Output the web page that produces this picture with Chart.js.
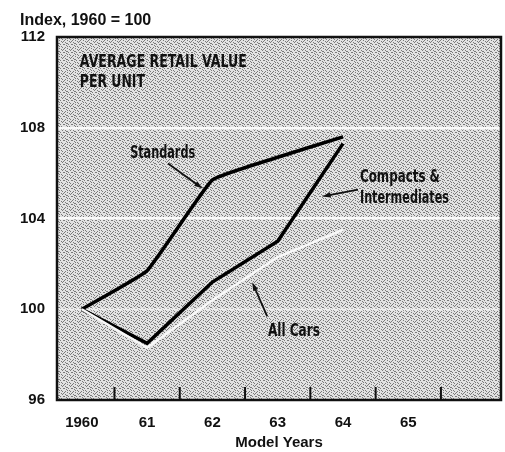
<!DOCTYPE html>
<html>
<head>
<meta charset="utf-8">
<script src="https://cdn.jsdelivr.net/npm/chart.js@4/dist/chart.umd.min.js"></script>
<style>
  html, body { margin: 0; padding: 0; background: #fff; }
  #wrap { width: 505px; height: 452px; }
</style>
</head>
<body>
<div id="wrap"><canvas id="chart" width="505" height="452"></canvas></div>
<script>
// --- data ---
const years = [1960, 1961, 1962, 1963, 1964];
const standards = [100, 101.7, 105.7, 106.7, 107.6];
const compacts = [100, 98.5, 101.2, 103.0, 107.3];
const allCars = [100, 98.3, 100.4, 102.3, 103.5];

const tickYears = [1960, 1961, 1962, 1963, 1964, 1965];
const tickLabels = ['1960', '61', '62', '63', '64', '65'];
const halfYears = [1960.5, 1961.5, 1962.5, 1963.5, 1964.5, 1965.5];
const yTicks = [96, 100, 104, 108, 112];

// annotations in data space: [text, x, y, width]
const notes = [
  ['AVERAGE RETAIL VALUE', 1959.97, 110.68, 167],
  ['PER UNIT', 1959.97, 109.8, 65],
  ['Standards', 1960.74, 106.68, 65],
  ['Compacts &', 1964.26, 105.63, 80],
  ['Intermediates', 1964.26, 104.7, 89],
  ['All Cars', 1962.85, 98.81, 52]
];
// arrows: [fromX, fromY, toX, toY]
const arrows = [
  [1961.32, 106.42, 1961.85, 105.32],
  [1964.23, 105.27, 1963.68, 104.97],
  [1962.84, 99.69, 1962.61, 101.19]
];

const boldFont = 'bold 16px "Liberation Sans", Arial, sans-serif';
const narrowFont = 'bold 17px "Liberation Sans Narrow", "DejaVu Sans Condensed", sans-serif';

// fixed dot layout for the stipple tile (8x8)
const dots = [[0,0],[3,0],[5,1],[1,2],[6,2],[3,3],[0,4],[4,4],[7,4],[2,5],[5,6],[1,7],[6,7],[3,6],[7,1],[2,3]];

function stipple(ctx) {
  const c = document.createElement('canvas');
  c.width = 8; c.height = 8;
  const g = c.getContext('2d');
  g.fillStyle = '#e2e2e2';
  g.fillRect(0, 0, 8, 8);
  g.fillStyle = '#7a7a7a';
  dots.forEach(p => g.fillRect(p[0], p[1], 1, 1));
  return ctx.createPattern(c, 'repeat');
}

const decor = {
  id: 'decor',
  beforeDraw(chart) {
    const { ctx, chartArea: a } = chart;
    ctx.save();
    ctx.fillStyle = '#ffffff';
    ctx.fillRect(0, 0, chart.width, chart.height);
    ctx.fillStyle = stipple(ctx);
    ctx.fillRect(a.left, a.top, a.right - a.left, a.bottom - a.top);
    ctx.restore();
  },
  afterDatasetsDraw(chart) {
    const { ctx, chartArea: a, scales: { x, y } } = chart;
    ctx.save();
    // small tick marks on the bottom axis
    ctx.strokeStyle = '#111';
    ctx.lineWidth = 2;
    halfYears.forEach(v => {
      const px = x.getPixelForValue(v);
      if (px > a.right - 2) return;
      ctx.beginPath();
      ctx.moveTo(px, a.bottom);
      ctx.lineTo(px, a.bottom - 13);
      ctx.stroke();
    });
    // frame
    ctx.lineWidth = 2.5;
    ctx.strokeRect(a.left, a.top, a.right - a.left, a.bottom - a.top);

    // labels
    ctx.fillStyle = '#111';
    ctx.font = narrowFont;
    ctx.textBaseline = 'alphabetic';
    ctx.textAlign = 'left';
    notes.forEach(n => {
      ctx.fillText(n[0], x.getPixelForValue(n[1]), y.getPixelForValue(n[2]), n[3]);
    });

    // arrows
    ctx.lineWidth = 1.8;
    arrows.forEach(ar => {
      const x1 = x.getPixelForValue(ar[0]), y1 = y.getPixelForValue(ar[1]);
      const x2 = x.getPixelForValue(ar[2]), y2 = y.getPixelForValue(ar[3]);
      const ang = Math.atan2(y2 - y1, x2 - x1);
      ctx.beginPath();
      ctx.moveTo(x1, y1);
      ctx.lineTo(x2 - 6 * Math.cos(ang), y2 - 6 * Math.sin(ang));
      ctx.stroke();
      ctx.beginPath();
      ctx.moveTo(x2, y2);
      ctx.lineTo(x2 - 9 * Math.cos(ang - 0.3), y2 - 9 * Math.sin(ang - 0.3));
      ctx.lineTo(x2 - 9 * Math.cos(ang + 0.3), y2 - 9 * Math.sin(ang + 0.3));
      ctx.closePath();
      ctx.fill();
    });

    // units line above the axis
    ctx.font = boldFont;
    ctx.fillText('Index, 1960 = 100', a.left - 37, a.top - 12);
    ctx.restore();
  }
};

new Chart(document.getElementById('chart'), {
  type: 'line',
  data: {
    datasets: [
      {
        label: 'All Cars',
        data: years.map((v, i) => ({ x: v, y: allCars[i] })),
        borderColor: '#f8f8f8',
        borderWidth: 2.5,
        pointRadius: 0,
        tension: 0
      },
      {
        label: 'Compacts & Intermediates',
        data: years.map((v, i) => ({ x: v, y: compacts[i] })),
        borderColor: '#000',
        borderWidth: 3.5,
        pointRadius: 0,
        tension: 0
      },
      {
        label: 'Standards',
        data: years.map((v, i) => ({ x: v, y: standards[i] })),
        borderColor: '#000',
        borderWidth: 3.5,
        pointRadius: 0,
        tension: 0.1
      }
    ]
  },
  options: {
    responsive: false,
    animation: false,
    layout: { padding: { top: 37, right: 4, bottom: 0, left: 0 } },
    plugins: {
      legend: { display: false },
      tooltip: { enabled: false }
    },
    scales: {
      x: {
        type: 'linear',
        min: 1959.62,
        max: 1966.42,
        afterBuildTicks: (s) => { s.ticks = tickYears.map(v => ({ value: v })); },
        afterFit: (s) => { s.height = 52; },
        grid: { display: false, drawTicks: false },
        border: { display: false },
        ticks: {
          padding: 14,
          color: '#111',
          font: { family: '"Liberation Sans", Arial, sans-serif', size: 15, weight: 'bold' },
          callback: (v) => tickLabels[tickYears.indexOf(v)] ?? ''
        },
        title: {
          display: true,
          text: 'Model Years',
          color: '#111',
          padding: { top: 0, bottom: 0 },
          font: { family: '"Liberation Sans", Arial, sans-serif', size: 15, weight: 'bold' }
        }
      },
      y: {
        min: 96,
        max: 112,
        afterBuildTicks: (s) => { s.ticks = yTicks.map(v => ({ value: v })); },
        afterFit: (s) => { s.width = 57; },
        border: { display: false },
        grid: {
          drawTicks: false,
          lineWidth: 2.5,
          color: (c) => {
            const v = c.tick && c.tick.value;
            if (v === 104 || v === 108) return 'rgba(255,255,255,0.9)';
            if (v === 100) return 'rgba(255,255,255,0.45)';
            return 'rgba(0,0,0,0)';
          }
        },
        ticks: {
          padding: 12,
          color: '#111',
          font: { family: '"Liberation Sans", Arial, sans-serif', size: 15, weight: 'bold' }
        }
      }
    }
  },
  plugins: [decor]
});
</script>
</body>
</html>
